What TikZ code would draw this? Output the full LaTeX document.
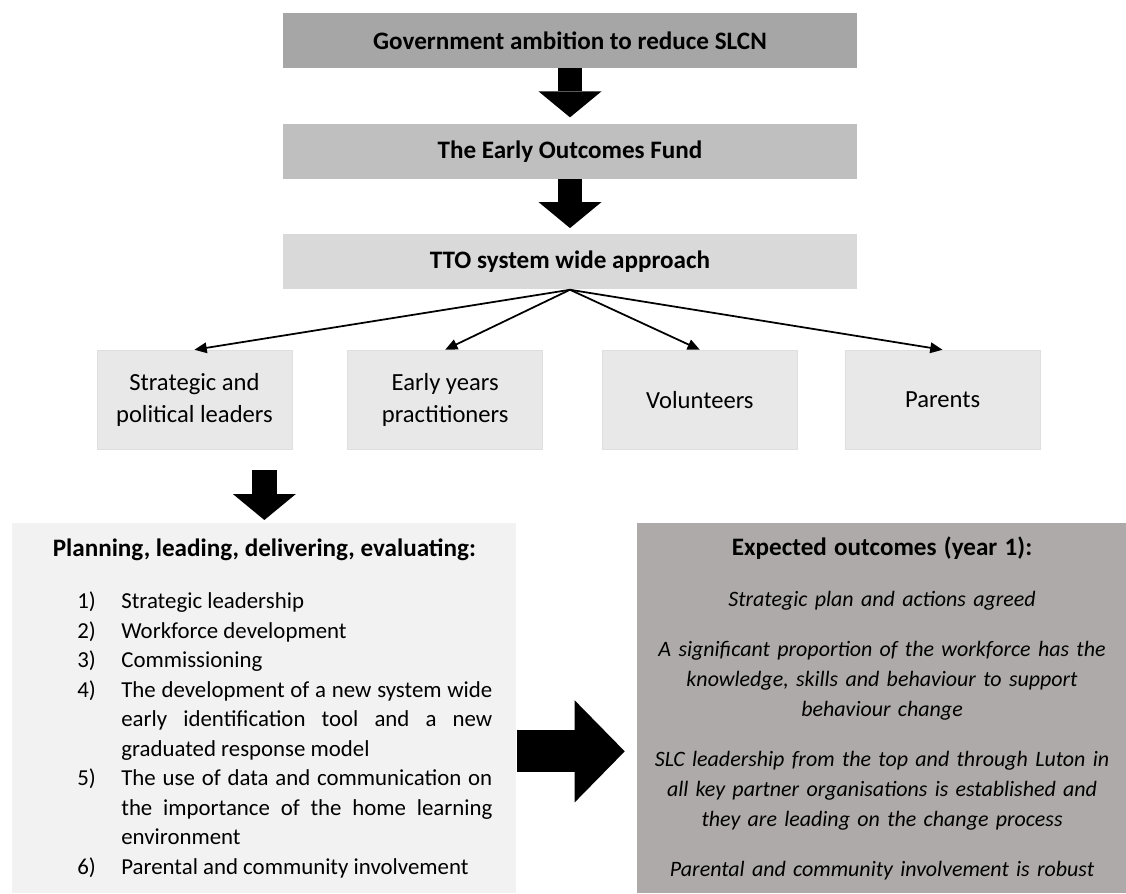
\documentclass[tikz,border=0pt]{standalone}
\usepackage{fontspec}
\setmainfont{Carlito}
\usepackage{tikz}
\usetikzlibrary{arrows.meta, positioning, calc}
\definecolor{outgray}{RGB}{174,170,169}
\tikzstyle{stage}      = [rectangle, minimum width=11.48cm, minimum height=1.1cm,
                           text centered, font=\fontsize{14.3}{17}\selectfont\bfseries]
\tikzstyle{group}      = [rectangle, minimum width=3.9cm, minimum height=1.98cm,
                           align=center, draw=black!13, fill=black!9,
                           font=\fontsize{14}{18.2}\selectfont]
\tikzstyle{panel}      = [rectangle, minimum height=7.4cm, inner sep=0pt]
\tikzstyle{arrow}      = [line width=1pt,-{Triangle[width=6pt,length=7pt]}]
\tikzstyle{blockarrow} = [line width=0.49cm,-{Triangle[width=1.26cm,length=0.52cm,line width=0pt]}]
\tikzstyle{widearrow}  = [line width=0.84cm,-{Triangle[width=2.04cm,length=1cm,line width=0pt]}]
\newcommand{\planitem}[2]{\hangindent=0.88cm\hangafter=1\noindent\makebox[0.88cm][l]{#1}#2\par}

\begin{document}
\begin{tikzpicture}[node distance=1.1cm, every node/.style={font=\fontsize{13}{16.8}\selectfont}]
  \useasboundingbox (0,0) rectangle (22.52,-17.86);

  \node (gov)  [stage, fill=black!35] at (11.4,-0.81) {Government ambition to reduce SLCN};
  \node (fund) [stage, fill=black!25, below=of gov]  {The Early Outcomes Fund};
  \node (tto)  [stage, fill=black!15, below=of fund] {TTO system wide approach};

  \node (early)   [group, below left=1.2cm and 0.54cm of tto.south]  {Early years\\practitioners};
  \node (vol)     [group, below right=1.2cm and 0.64cm of tto.south] {Volunteers};
  \node (strat)   [group, left=1.1cm of early]   {Strategic and\\political leaders};
  \node (parents) [group, right=0.94cm of vol]   {Parents};

  \node (plan) [panel, fill=black!5, minimum width=10.08cm, text width=9.6cm, align=justify,
                anchor=north west] at (0.24,-10.46) {%
    {\centering\fontsize{14.3}{17}\selectfont\bfseries Planning, leading, delivering, evaluating:\par}
    \vspace{13pt}
    \leftskip=1.06cm \rightskip=0.24cm
    \planitem{1)}{Strategic leadership}
    \planitem{2)}{Workforce development}
    \planitem{3)}{Commissioning}
    \planitem{4)}{The development of a new system wide\linebreak early identification tool and a new\linebreak graduated response model}
    \planitem{5)}{The use of data and communication on\linebreak the importance of the home learning\linebreak environment}
    \planitem{6)}{Parental and community involvement}};
  \node (outc) [panel, fill=outgray, minimum width=9.8cm, text width=9.7cm, align=center,
                right=2.4cm of plan.north east, anchor=north west, font=\fontsize{12.5}{17}\selectfont\itshape] {%
    {\fontsize{14.3}{17}\selectfont\bfseries\upshape Expected outcomes (year 1):\par}
    \vspace{12pt}
    Strategic plan and actions agreed\par
    \vspace{11.5pt}
    A significant proportion of the workforce has the\\knowledge, skills and behaviour to support\\behaviour change\par
    \vspace{11.5pt}
    SLC leadership from the top and through Luton in\\all key partner organisations is established and\\they are leading on the change process\par
    \vspace{11.5pt}
    Parental and community involvement is robust\par};

  \draw[blockarrow, shorten >=0.12cm] (gov) -- (fund);
  \draw[blockarrow, shorten >=0.12cm] (fund) -- (tto);
  \draw[arrow] (tto.south) -- (strat.north);
  \draw[arrow] (tto.south) -- (early.north);
  \draw[arrow] (tto.south) -- (vol.north);
  \draw[arrow] (tto.south) -- (parents.north);
  \draw[blockarrow, shorten <=0.42cm, shorten >=0.06cm] (strat.south -| plan.north) -- (plan.north);
  \draw[widearrow, shorten >=0.24cm] ([yshift=-0.86cm]plan.east) -- ([yshift=-0.86cm]outc.west);
\end{tikzpicture}
\end{document}
